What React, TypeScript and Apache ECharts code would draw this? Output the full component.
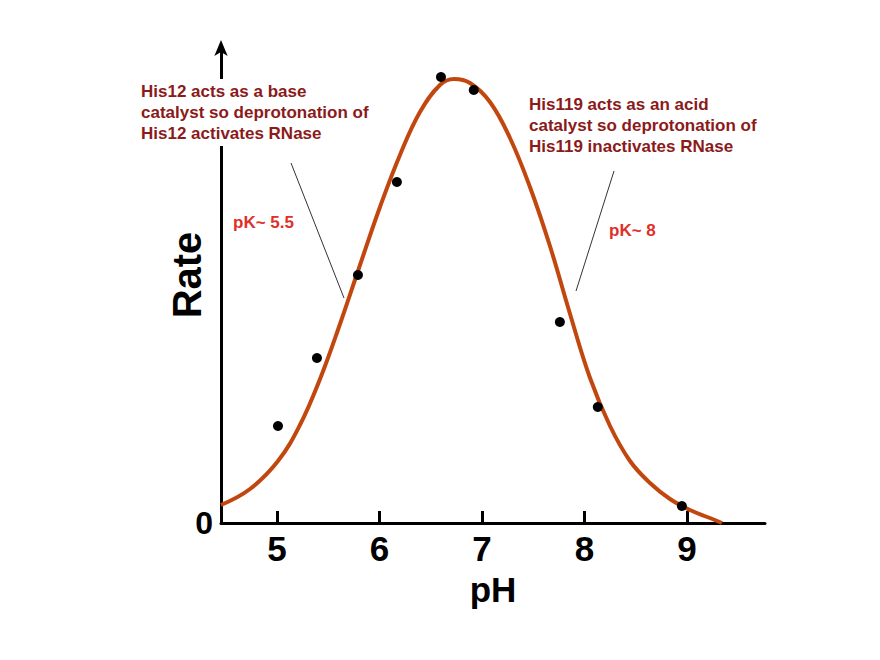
import React, { useEffect, useRef } from "react";
import * as echarts from "echarts";

// Fitted rate curve (pH, relative rate)
const curvePH = [4.454, 4.737, 5.01, 5.224, 5.42, 5.615, 5.81, 6.005, 6.2, 6.395, 6.59, 6.727, 6.883, 7.078, 7.273, 7.468, 7.663, 7.859, 8.054, 8.249, 8.444, 8.639, 8.834, 9.029, 9.224, 9.341];
const curveRate = [18, 34, 62, 98, 144, 199, 258, 316, 368, 411, 438, 444, 440, 421, 385, 336, 277, 209, 145, 97, 62, 40, 24, 13, 5, 0];

// Measured points
const pointPH = [5.01, 5.39, 5.79, 6.17, 6.6, 6.92, 7.76, 8.13, 8.95];
const pointRate = [97, 165, 248, 341, 446, 433, 201, 116, 17];

const xTicks = [5, 6, 7, 8, 9];
const yTicks = [0];

const leftNote = "His12 acts as a base\ncatalyst so deprotonation of\nHis12 activates RNase";
const rightNote = "His119 acts as an acid\ncatalyst so deprotonation of\nHis119 inactivates RNase";
const leftPK = "pK~ 5.5";
const rightPK = "pK~ 8";

const FONT = "'Liberation Sans', Arial, sans-serif";

export default function App() {
  const ref = useRef<HTMLDivElement>(null);
  useEffect(() => {
    if (!ref.current) return;
    const chart = echarts.init(ref.current, null, { renderer: "svg" });
    const curve = curvePH.map((x, i) => [x, curveRate[i]]);
    const pts = pointPH.map((x, i) => [x, pointRate[i]]);
    chart.setOption({
      animation: false,
      backgroundColor: "#ffffff",
      grid: { left: 221, right: 115, top: 46, bottom: 137 },
      xAxis: {
        type: "value",
        min: 4.454,
        max: 9.761,
        name: "pH",
        nameLocation: "middle",
        nameGap: 49,
        nameTextStyle: { fontFamily: FONT, fontWeight: "bold", fontSize: 35, color: "#000" },
        axisLine: { show: true, onZero: false, lineStyle: { color: "#000", width: 3 } },
        axisTick: { show: true, inside: true, length: 12, customValues: xTicks, lineStyle: { color: "#000", width: 3 } },
        axisLabel: { customValues: xTicks, fontFamily: FONT, fontWeight: "bold", fontSize: 35, color: "#000", margin: 8 },
        splitLine: { show: false },
      },
      yAxis: {
        type: "value",
        min: 0,
        max: 477,
        axisLine: { show: true, onZero: false, symbol: ["none", "arrow"], symbolSize: [10, 16], symbolOffset: [0, 6], lineStyle: { color: "#000", width: 3 } },
        axisTick: { show: false },
        axisLabel: { customValues: yTicks, fontFamily: FONT, fontWeight: "bold", fontSize: 32, color: "#000", margin: 8, formatter: (v: number) => String(v) },
        splitLine: { show: false },
      },
      series: [
        {
          type: "line",
          data: curve,
          smooth: 0.4,
          showSymbol: false,
          lineStyle: { color: "#c2470f", width: 4 },
          z: 2,
        },
        {
          type: "scatter",
          data: pts,
          symbolSize: 10,
          itemStyle: { color: "#000", opacity: 1 },
          z: 3,
        },
      ],
      graphic: [
        {
          type: "text",
          x: 187,
          y: 275,
          rotation: Math.PI / 2,
          z: 100,
          style: { text: "Rate", fill: "#000", font: `bold 40px ${FONT}`, align: "center", verticalAlign: "middle" },
        },
        {
          type: "text",
          left: 137,
          top: 79,
          z: 100,
          style: { text: leftNote, fill: "#8b1a1a", font: `bold 17px ${FONT}`, lineHeight: 21, backgroundColor: "#ffffff", padding: [2, 4] },
        },
        {
          type: "text",
          left: 525,
          top: 92,
          z: 100,
          style: { text: rightNote, fill: "#8b1a1a", font: `bold 17px ${FONT}`, lineHeight: 21, backgroundColor: "#ffffff", padding: [2, 4] },
        },
        {
          type: "text",
          left: 233,
          top: 214,
          z: 100,
          style: { text: leftPK, fill: "#e0302a", font: `bold 17px ${FONT}` },
        },
        {
          type: "text",
          left: 609,
          top: 222,
          z: 100,
          style: { text: rightPK, fill: "#e0302a", font: `bold 17px ${FONT}` },
        },
        {
          type: "line",
          z: 100,
          shape: { x1: 291, y1: 163, x2: 344, y2: 298 },
          style: { stroke: "#333", lineWidth: 1 },
        },
        {
          type: "line",
          z: 100,
          shape: { x1: 614, y1: 171, x2: 576, y2: 291 },
          style: { stroke: "#333", lineWidth: 1 },
        },
      ],
    });
    return () => chart.dispose();
  }, []);
  return <div ref={ref} style={{ position: "absolute", left: 0, top: 0, width: 880, height: 660 }} />;
}
